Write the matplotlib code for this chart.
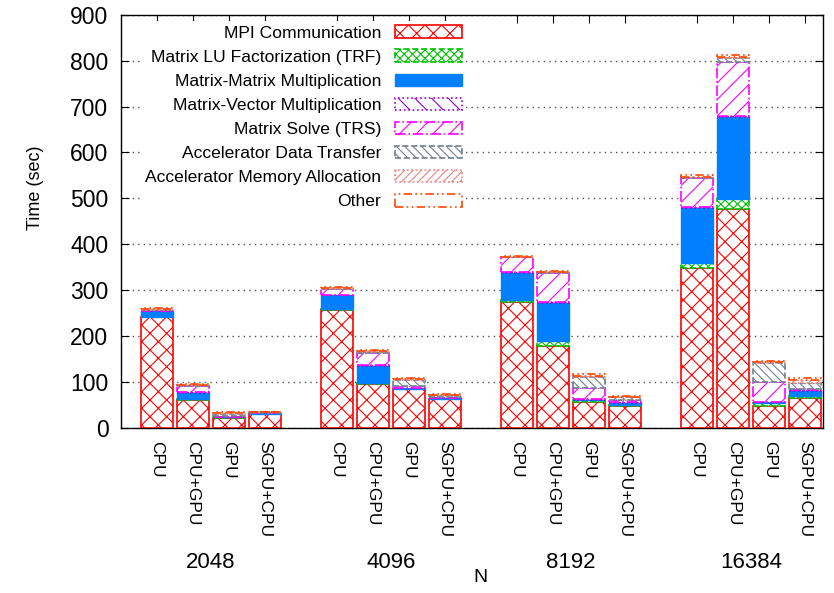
import numpy as np
import matplotlib
matplotlib.use("Agg")
import matplotlib.pyplot as plt
from matplotlib.transforms import blended_transform_factory

plt.rcParams['font.family'] = ['Liberation Sans', 'DejaVu Sans']
plt.rcParams['hatch.linewidth'] = 0.8

categories = ['CPU', 'CPU+GPU', 'GPU', 'SGPU+CPU']
sizes = ['2048', '4096', '8192', '16384']

series_names = ['MPI Communication', 'Matrix LU Factorization (TRF)',
                'Matrix-Matrix Multiplication', 'Matrix-Vector Multiplication',
                'Matrix Solve (TRS)', 'Accelerator Data Transfer',
                'Accelerator Memory Allocation', 'Other']

mpi   = [240, 61, 21, 30, 257, 94, 84, 62, 273, 178, 56, 47, 347, 476, 47, 64]
trf   = [2, 2, 1, 0.5, 2, 4, 1, 1, 6, 10, 4, 2, 12, 22, 7, 5]
mm    = [12, 13, 1, 0.5, 30, 37, 1, 1, 59, 84, 1, 5, 119, 180, 1, 11]
mv    = [0.5, 1, 1, 0, 1, 2, 1, 0.5, 1, 2, 1, 1, 2, 2, 1, 1]
trs   = [2, 14, 1, 1, 12, 26, 3, 2, 32, 62, 24, 4, 65, 118, 44, 3]
adt   = [0.5, 1, 5, 1, 1, 2, 14, 4, 1, 3, 25, 7, 1, 7, 40, 14]
ama   = [1, 1, 1, 0.5, 1, 1, 2, 1, 1, 1, 2, 1, 1, 2, 2, 5]
other = [3, 1, 2, 1.5, 3, 3, 3, 2, 2, 2, 3, 2, 3, 5, 3, 5]

series = [mpi, trf, mm, mv, trs, adt, ama, other]
colors = ['#ff0000', '#00c000', '#0080ff', '#9400d3', '#ff00ff', '#708090', '#f08080', '#ff4500']
hatches = ['xx', 'xxxx', None, '\\\\', '//', '\\\\\\\\', '////', None]
lstyles = ['-', '--', '-', ':', '-.', '--', ':', (0, (5, 2, 1, 2, 1, 2))]

fig = plt.figure(figsize=(8.34, 5.93), dpi=100)
ax = fig.add_axes([0.145, 0.279, 0.842, 0.696])

ng, nc = len(sizes), len(categories)
pos = np.array([g * (nc + 1) + c for g in range(ng) for c in range(nc)], dtype=float)
width = 0.87

bottom = np.zeros(len(pos))
for name, vals, col, h, ls in zip(series_names, series, colors, hatches, lstyles):
    vals = np.array(vals, dtype=float)
    if h is None and col == '#0080ff':
        ax.bar(pos, vals, width, bottom=bottom, color=col, edgecolor=col,
               linewidth=1.0, label=name, zorder=3)
    else:
        ax.bar(pos, vals, width, bottom=bottom, facecolor='white', edgecolor=col,
               hatch=h, linewidth=1.2, linestyle=ls, label=name, zorder=3)
    bottom += vals

ax.set_xlim(-1, pos[-1] + 0.5)
ax.set_ylim(0, 900)
ax.set_yticks(np.arange(0, 901, 100))
ax.tick_params(axis='y', labelsize=16.5, direction='in', length=6, right=True, pad=9)
ax.set_xticks(pos)
ax.set_xticklabels(categories * ng, rotation=270, fontsize=12.5, va='top', ha='center')
ax.tick_params(axis='x', direction='in', length=6, top=True, pad=10)
ax.grid(axis='y', color='#505050', linestyle=(0, (1, 3)), linewidth=1.0, zorder=0)
ax.set_axisbelow(True)
for s in ax.spines.values():
    s.set_linewidth(1.0)

fig.text(36 / 834, 1 - 188 / 593, 'Time (sec)', rotation=90, ha='center', va='center', fontsize=13)

trans = blended_transform_factory(ax.transData, fig.transFigure)
for g, lab in enumerate(sizes):
    cx = pos[g * nc:(g + 1) * nc].mean()
    ax.text(cx, 1 - 562 / 593, lab, transform=trans, ha='center', va='center', fontsize=16)
fig.text(480 / 834, 1 - 578 / 593, 'N', ha='center', va='center', fontsize=14)

leg = ax.legend(loc='upper right', bbox_to_anchor=(466 / 834, 1 - 21 / 593),
                bbox_transform=fig.transFigure, markerfirst=False, fontsize=12.6,
                handlelength=3.8, handleheight=0.72, labelspacing=0.5,
                borderpad=0.25, handletextpad=0.8, frameon=True, fancybox=False,
                framealpha=1, edgecolor='none', borderaxespad=0)
for t in leg.get_texts():
    t.set_ha('right')
leg.set_zorder(5)

fig.savefig('out.png', dpi=100)
